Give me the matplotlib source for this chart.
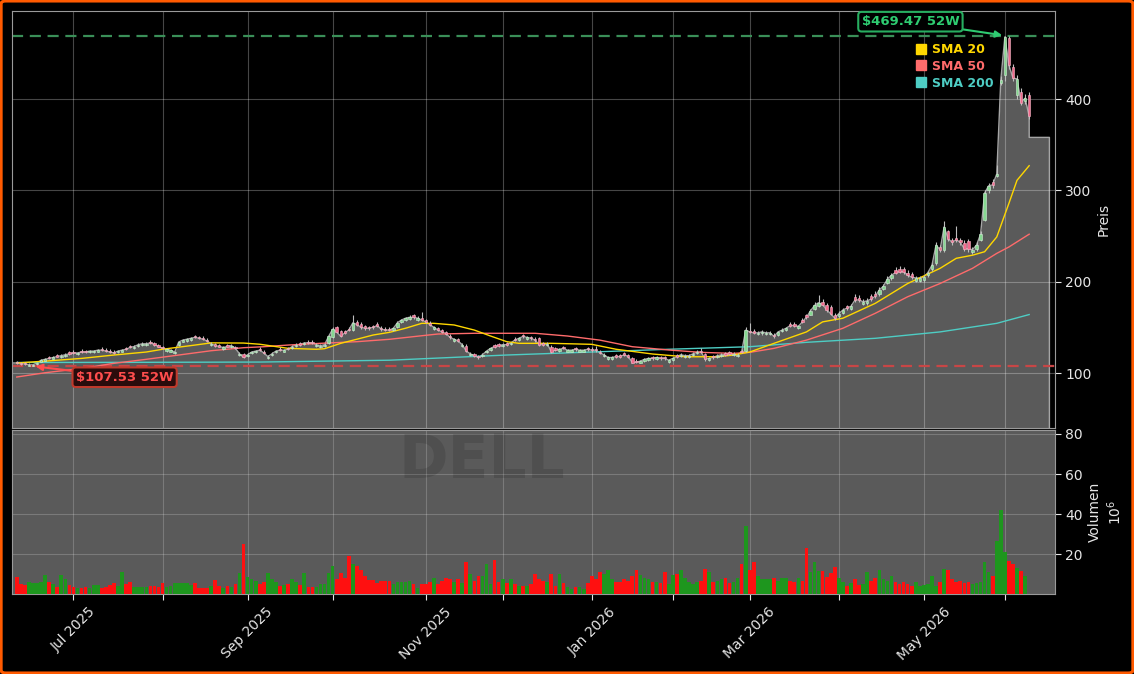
import numpy as np
import pandas as pd
import matplotlib
matplotlib.use("Agg")
import matplotlib.pyplot as plt
from matplotlib.lines import Line2D
from matplotlib.patches import FancyBboxPatch

# ===============================
# DATA
# ===============================
TICKER = "DELL"
START = "2025-06-10"
HOLIDAYS = ["2025-06-19", "2025-07-04", "2025-09-01", "2025-11-27", "2025-12-25",
            "2026-01-01", "2026-01-19", "2026-02-16", "2026-04-03", "2026-05-25"]

closes = [
    111, 110, 110, 109, 109, 111, 114, 115, 116, 117,
    118, 119, 120, 121, 122, 122, 123, 123, 124, 124,
    125, 125, 124, 123, 122, 124, 125, 126, 128, 129,
    131, 132, 132, 133, 131, 129, 127, 126, 125, 123,
    134, 136, 137, 138, 139, 138, 137, 135, 132, 130,
    129, 128, 129, 130, 127, 121, 117, 120, 123, 124,
    125, 122, 118, 121, 124, 125, 125, 126, 129, 131,
    131, 133, 133, 133, 131, 130, 131, 140, 148, 145,
    140, 144, 147, 155, 153, 150, 149, 149, 150, 152,
    148, 147, 147, 149, 155, 158, 160, 161, 161, 160,
    158, 156, 153, 150, 147, 145, 143, 139, 137, 135,
    131, 124, 121, 119, 117, 120, 124, 127, 129, 130,
    131, 131, 133, 136, 138, 140, 139, 138, 136, 131,
    131, 132, 123, 125, 126, 127, 125, 125, 126, 125,
    125, 126, 125, 125, 122, 120, 117, 117, 118, 118,
    120, 118, 111.5, 112, 113, 115, 116, 116, 117, 116,
    116, 114, 116, 118, 120, 119, 119, 121, 123, 123,
    115, 116, 117, 119, 120, 120, 121, 121, 120, 123,
    147, 145, 144, 144, 145, 144, 144, 140, 145, 147,
    149, 152, 152, 151, 156, 161, 168, 174, 177, 175,
    169, 165, 160, 165, 169, 171, 173, 180, 180, 178,
    179, 181, 184, 191, 195, 203, 207, 210, 211, 211,
    207, 205, 204, 204, 205, 210, 218, 240, 235, 260,
    247, 243, 246, 243, 236, 236, 235, 240, 252, 297,
    305, 306, 318, 421, 468, 437, 423, 422, 396, 401, 381,
]
opens = [
    112, 111, 111, 108, 108, 109.5, 112.5, 113.5, 117.5, 115.5,
    119.5, 117.5, 118.5, 122.5, 123.5, 120.5, 124.5, 124.5, 122.5, 122.5,
    123.5, 126.5, 125.5, 124.5, 123.5, 122.5, 123.5, 127.5, 129.5, 127.5,
    129.5, 130.5, 130.5, 134.5, 132.5, 130.5, 128.5, 124.5, 123.5, 121.5,
    131, 134.5, 135.5, 136.5, 140.5, 139.5, 138.5, 136.5, 130.5, 131.5,
    130.5, 126.5, 130.5, 128.5, 128.5, 119.5, 121, 118.5, 121.5, 122.5,
    126.5, 123.5, 116.5, 119.5, 122.5, 126.5, 123.5, 127.5, 127.5, 129.5,
    132.5, 131.5, 134.5, 134.5, 129.5, 128.5, 129.5, 133, 139, 150,
    146, 146, 148.5, 147, 156, 154, 151, 150.5, 151.5, 153.5,
    149.5, 148.5, 148.5, 147.5, 150, 155.5, 158, 159, 163, 158,
    160, 158, 155, 148.5, 149, 147, 145, 141, 135.5, 137,
    129.5, 130, 119.5, 120.5, 118.5, 118.5, 122.5, 125.5, 130.5, 131.5,
    129.5, 132.5, 131.5, 137.5, 136.5, 141.5, 137.5, 139.5, 137.5, 138.5,
    132.5, 130.5, 129, 127, 124.5, 128.5, 123.5, 123.5, 127.5, 123.5,
    123.5, 127.5, 126.5, 126.5, 123.5, 118.5, 115.5, 115.5, 119.5, 119.5,
    121.5, 119.5, 116.5, 113.5, 111.5, 113.5, 114.5, 117.5, 115.5, 117.5,
    117.5, 112.5, 114.5, 119.5, 118.5, 117.5, 117.5, 119.5, 121.5, 124.5,
    121, 114.5, 118.5, 117.5, 118.5, 121.5, 122.5, 119.5, 118.5, 124.5,
    124, 146.5, 146, 142.5, 143.5, 142.5, 142.5, 142, 142, 145.5,
    147.5, 154, 154, 149, 158, 163, 164, 170, 173, 178,
    175, 172, 164, 162, 166, 173, 170, 183, 182.5, 175.5,
    176.5, 184, 187, 186, 192, 199, 204, 213, 214, 214,
    210, 208, 201, 201, 202, 207, 214, 220, 238, 235,
    255, 246, 248, 246, 242, 245, 232, 236, 246, 268,
    300, 309, 316, 418, 426, 467, 435, 404, 408, 398, 404,
]
highs = [
    113.5, 112.5, 112, 110.5, 110, 112.5, 115.5, 116.5, 118.5, 118.5,
    121, 120.5, 121.5, 124, 125, 123.5, 126, 125.5, 125.5, 125.5,
    126.5, 128, 127, 126, 125, 125.5, 126.5, 129, 131, 130.5,
    132.5, 133.5, 134, 136, 134, 132, 130, 127.5, 126.5, 124.5,
    135.5, 137.5, 138.5, 139.5, 142, 141, 140, 138, 133.5, 133,
    132, 129.5, 132, 131.5, 130, 123, 122, 121.5, 124.5, 125.5,
    128, 125, 119.5, 122.5, 125.5, 128, 126.5, 129, 130.5, 132.5,
    134, 134.5, 136, 136, 132.5, 131.5, 132.5, 141.5, 150, 151,
    147.5, 147.5, 150, 163.5, 158, 156, 152.5, 152, 153, 155.5,
    151, 150, 150, 150.5, 156.5, 159.5, 161.5, 163, 165, 162,
    167, 159.5, 157, 151.5, 150.5, 148.5, 146.5, 142.5, 138.5, 138.5,
    133, 131.5, 123, 122, 120, 121.5, 125.5, 128.5, 132, 133,
    132.5, 134, 134.5, 139, 139.5, 143, 140.5, 141, 139, 139.5,
    134, 133.5, 130.5, 128.5, 127.5, 130, 126.5, 126.5, 129, 126.5,
    126.5, 129, 128, 130, 125, 121.5, 118.5, 118.5, 121, 121,
    123, 121, 118, 115, 114.5, 116.5, 117.5, 119, 118.5, 119,
    119, 115.5, 117.5, 121, 121.5, 120.5, 120.5, 122.5, 125, 127.5,
    122, 117.5, 120, 120.5, 121.5, 123, 124, 122.5, 121.5, 126,
    150, 155, 148.5, 146, 147, 146, 146, 143.5, 146.5, 149,
    150.5, 156, 156, 153, 160, 165, 170, 178, 185, 181,
    177, 174, 166, 167.5, 171, 175, 175.5, 186, 185, 181,
    182, 187, 190, 194, 198, 206, 210, 216, 217, 216,
    213, 211, 206, 206, 207, 212, 221, 243, 240, 266,
    257, 248, 261, 248, 246, 247, 238, 243, 255, 300,
    308, 312, 328, 425, 469.47, 469, 438, 426, 412, 405, 408,
]
lows = [
    110, 109, 109, 108, 107.53, 109, 112, 113, 115, 115,
    117, 116.5, 117.5, 120, 121, 120, 122, 122, 121.5, 121.5,
    122.5, 124, 123, 122, 121, 121.5, 122.5, 125, 127, 126.5,
    128.5, 129.5, 129.5, 132, 130, 128, 126, 123.5, 122.5, 120.5,
    130, 133.5, 134.5, 135.5, 138, 137, 136, 134, 129.5, 129,
    128, 125.5, 128, 127.5, 126, 118.5, 116, 117.5, 120.5, 121.5,
    124, 121, 115.5, 118.5, 121.5, 124, 122.5, 125, 126.5, 128.5,
    130, 130.5, 132, 132, 128.5, 127.5, 128.5, 132, 138, 144,
    139, 142.5, 145.5, 146, 151.5, 148.5, 147.5, 147.5, 148.5, 150.5,
    146.5, 145.5, 145.5, 146.5, 149, 154.5, 157, 158, 159.5, 156.5,
    157, 154.5, 151.5, 147.5, 145.5, 143.5, 141.5, 137.5, 134.5, 133.5,
    128.5, 123, 118.5, 117.5, 115.5, 117.5, 121.5, 124.5, 127.5, 128.5,
    128.5, 130, 130.5, 135, 135.5, 138.5, 136.5, 136.5, 134.5, 130,
    129.5, 129.5, 121.5, 124, 123.5, 126, 122.5, 122.5, 124.5, 122.5,
    122.5, 124.5, 123.5, 123.5, 120.5, 117.5, 114.5, 114.5, 116.5, 116.5,
    118.5, 116.5, 110.5, 110.5, 110.5, 112.5, 113.5, 114.5, 114.5, 114.5,
    114.5, 111.5, 113.5, 116.5, 117.5, 116.5, 116.5, 118.5, 120.5, 121.5,
    113.5, 113.5, 115.5, 116.5, 117.5, 118.5, 119.5, 118.5, 117.5, 121.5,
    123, 143.5, 142.5, 141.5, 142, 141.5, 141.5, 138.5, 140.5, 144.5,
    146.5, 150.5, 150.5, 148, 154.5, 159.5, 163, 169, 172, 173.5,
    167, 163, 158.5, 160.5, 165, 169, 168.5, 178, 177.5, 174.5,
    175, 179, 182, 184.5, 190.5, 197, 202, 208, 209, 208.5,
    205, 203, 199.5, 199.5, 200, 205, 212, 218, 232, 233,
    245, 240, 243, 240, 234, 233, 230, 234, 244, 266,
    297, 303, 315, 415, 420, 433, 420, 400, 393, 395, 378,
]
volumes = [  # millions
    8.7, 5, 4.8, 6, 5.5, 5.5, 6, 9.6, 6, 5,
    3.7, 9.6, 7.8, 4.8, 3.7, 3.4, 3.4, 3.5, 3.4, 4.6,
    4.8, 3.4, 3.7, 4.8, 5.7, 4, 11, 5, 6.2, 3.7,
    3.7, 3.7, 3.7, 4.3, 4.3, 3.9, 5.5, 3.7, 4, 5.5,
    5.5, 5.5, 5.5, 4.8, 5.9, 3.4, 3.4, 3.4, 4, 7,
    4.3, 3.4, 4, 3.7, 5, 10.5, 25, 8.7, 7.8, 6.5,
    5, 6, 10.5, 7.8, 6, 4.3, 4.8, 5, 7.8, 6,
    4.5, 10.5, 3.7, 3.7, 3.7, 5, 5, 10.5, 14, 7.8,
    10.5, 8, 19, 15, 14, 12, 9, 7, 7, 5.5,
    6.8, 6.8, 6.8, 5, 6, 6, 6, 6.5, 5, 3.4,
    5, 5, 6, 8, 5, 6.8, 8.4, 7.6, 6, 7.6,
    5.6, 16, 10.4, 6.8, 9.3, 9.3, 15, 5, 17, 6,
    7.6, 5.5, 7.6, 5, 4.3, 4, 4, 5, 10, 7.6,
    6.8, 6, 10, 4, 10, 5.6, 3.5, 2.6, 3.5, 3.5,
    2.5, 5.6, 9.3, 7.6, 11, 10, 12, 7.6, 6.3, 6,
    7.6, 6.5, 9.3, 12, 9.6, 8.4, 7.6, 6, 6, 5.5,
    11, 5, 9.6, 10, 12, 8.4, 6, 5, 6, 6.8,
    12.5, 11.2, 6.3, 6.8, 7.6, 8, 5.6, 6, 8, 15,
    34, 12.4, 16, 9.3, 7.6, 7.6, 7.6, 8, 6.8, 8,
    8.4, 6.8, 6, 8, 6.6, 23, 11, 16, 11.7, 11.7,
    8.8, 10.6, 13.7, 8, 6, 4.3, 5.6, 7.6, 4.6, 5,
    11, 6.8, 8.4, 12, 7.6, 6.8, 9.3, 6, 5, 6.3,
    5, 4, 6, 4.3, 4.6, 5, 9.3, 4.3, 6, 12.6,
    12.2, 7.6, 6.3, 6.8, 5.6, 6.3, 5, 5.5, 6, 16,
    11, 9.3, 26.6, 42, 21, 16.7, 15, 13, 11.7, 9.3, 0,
]

# moving averages, sampled along the curves (trading-day index, price)
sma20_idx = [0, 7, 16, 24, 32, 36, 44, 48, 56, 60, 67, 74, 76, 80, 84, 88, 92, 96, 100,
             103, 108, 113, 117, 121, 124, 132, 142, 148, 157, 165, 173, 177, 181, 187,
             195, 199, 204, 212, 220, 228, 232, 236, 239, 242, 245, 247, 250]
sma20_val = [111, 113, 116, 119.7, 123, 126, 130.6, 133, 132.8, 131.5, 127, 126, 126.6,
             132.5, 137, 141.6, 144.5, 149, 154.4, 154.4, 152.6, 147, 140.5, 134.3, 132.5,
             132.5, 131.4, 126, 120.8, 117.8, 117.8, 119.7, 123, 132.5, 145, 156, 160,
             176.3, 198, 214.6, 225.6, 229, 232.8, 249, 285.8, 311, 327]
sma50_idx = [0, 7, 16, 24, 32, 40, 48, 56, 61, 67, 75, 84, 92, 100, 104, 113, 121, 128,
             136, 144, 152, 161, 169, 177, 181, 187, 195, 204, 212, 220, 228, 236, 242,
             245, 250]
sma50_val = [95.6, 100.3, 105, 110.6, 115, 119.7, 124.4, 127.7, 128.8, 130.6, 132.5,
             134.3, 136.9, 140.8, 142.7, 143.5, 143.5, 143.5, 140.5, 136, 128.8, 125.2,
             122.6, 121.5, 122.6, 127, 136, 149, 165.4, 183.5, 198, 214.6, 231, 238, 252]
sma200_idx = [0, 30, 60, 92, 121, 144, 161, 181, 195, 212, 228, 242, 250]
sma200_val = [111.5, 111.7, 112, 114, 119.7, 123.3, 126, 128.8, 133.6, 138, 145, 154.4, 164]

tail_close = 358.0   # flat level of the area after the last candle
tail_days = 5
high_52w = 469.47
low_52w = 107.53

# ===============================
# STYLE
# ===============================
BG = "black"
PANEL = "#5a5a5a"
TXT = "#e6e6e6"
UP, DOWN = "#86d891", "#f26a8d"
VUP, VDOWN = "#1e961e", "#ff1010"
C20, C50, C200 = "#FFD700", "#FF6B6B", "#4ECDC4"
XMIN, XMAX = -1.1, 256.3

n = len(closes)
x = np.arange(n)
o = np.array(opens, float)
c = np.array(closes, float)
h = np.array(highs, float)
l = np.array(lows, float)
up = c >= o

days = pd.bdate_range(START, periods=n + 40)
days = days[~days.isin(pd.to_datetime(HOLIDAYS))][:n]
month_start = [i for i in range(1, n) if days[i].month != days[i - 1].month]
month_lbl = [days[i].strftime("%b %Y") if days[i].month % 2 == 1 else "" for i in month_start]

fig = plt.figure(figsize=(11.34, 6.74), dpi=100, facecolor=BG)
ax = fig.add_axes([0.01085, 0.3650, 0.9192, 0.6187])
axv = fig.add_axes([0.01085, 0.1180, 0.9192, 0.2441], sharex=ax)

# --- price panel ---
ax.set_facecolor(BG)
fx = np.concatenate([[XMIN], x, [n - 1, n - 1 + tail_days]])
fy = np.concatenate([[c[0]], c, [tail_close, tail_close]])
ax.fill_between(fx, fy, 0, color=PANEL, lw=0, zorder=1)
ax.plot(np.append(fx, fx[-1]), np.append(fy, 0), color="#a5a5a5", lw=1, zorder=1.2)

ax.vlines(x, l, h, color="#bdbdbd", lw=0.8, zorder=3)
body = np.maximum(np.abs(c - o), 0.6)
ax.bar(x[up], body[up], bottom=np.minimum(o, c)[up], width=0.6,
       color=UP, edgecolor="#cfeed4", lw=0.4, zorder=4)
ax.bar(x[~up], body[~up], bottom=np.minimum(o, c)[~up], width=0.6,
       color=DOWN, edgecolor="#f7b8c8", lw=0.4, zorder=4)

ax.plot(sma20_idx, sma20_val, color=C20, lw=1, zorder=2.5)
ax.plot(sma50_idx, sma50_val, color=C50, lw=1, zorder=2.4)
ax.plot(sma200_idx, sma200_val, color=C200, lw=1, zorder=2.3)

ax.axhline(high_52w, color="#3a8f58", lw=1.6, ls=(0, (5, 3)), zorder=2)
ax.axhline(low_52w, color="#c84646", lw=1.6, ls=(0, (5, 3)), zorder=2)

i_hi = int(np.argmax(h))
i_lo = int(np.argmin(l))
ax.annotate(f"${high_52w:.2f} 52W", xy=(i_hi, high_52w), xytext=(-68, 10),
            textcoords="offset points", ha="center", va="center",
            color="#2ecc71", fontsize=9.5, fontweight="bold", zorder=6,
            bbox=dict(boxstyle="round,pad=0.25", fc="black", ec="#27ae60", lw=1.5),
            arrowprops=dict(arrowstyle="-|>", color="#2ecc71", lw=1.5, shrinkA=0, shrinkB=2))
ax.annotate(f"${low_52w:.2f} 52W", xy=(i_lo, low_52w), xytext=(66, -8),
            textcoords="offset points", ha="center", va="center",
            color="#ff4d4d", fontsize=9.5, fontweight="bold", zorder=6,
            bbox=dict(boxstyle="round,pad=0.25", fc="#2a0c0c", ec="#c0392b", lw=1.5),
            arrowprops=dict(arrowstyle="-|>", color="#ff4d4d", lw=1.5, shrinkA=0, shrinkB=2))

handles = [Line2D([], [], ls="none", marker="s", ms=6.5, color=col) for col in (C20, C50, C200)]
leg = ax.legend(handles, ["SMA 20", "SMA 50", "SMA 200"], loc="upper right",
                bbox_to_anchor=(0.952, 0.95), frameon=False, handlelength=0.7,
                handletextpad=0.5, labelspacing=0.3, prop=dict(size=9, weight="bold"))
for t, col in zip(leg.get_texts(), (C20, C50, C200)):
    t.set_color(col)

ax.set_ylim(39.8, 496.4)
ax.set_yticks([100, 200, 300, 400])
ax.yaxis.tick_right()
ax.yaxis.set_label_position("right")
ax.set_ylabel("Preis", color=TXT, fontsize=10)
ax.tick_params(axis="y", colors=TXT, labelsize=10, length=4)
ax.tick_params(axis="x", length=0, labelbottom=False)
ax.grid(True, color="white", alpha=0.28, lw=0.8)
for s in ax.spines.values():
    s.set_color("#9a9a9a")

# --- volume panel ---
axv.set_facecolor(PANEL)
v = np.array(volumes, float)
axv.bar(x, v, width=0.9, color=np.where(up, VUP, VDOWN), lw=0, zorder=3)
axv.set_ylim(0, 82)
axv.set_yticks([20, 40, 60, 80])
axv.yaxis.tick_right()
axv.yaxis.set_label_position("right")
axv.set_ylabel("Volumen\n$10^{6}$", color=TXT, fontsize=10)
axv.tick_params(axis="y", colors=TXT, labelsize=10, length=4)
axv.set_xticks(month_start)
axv.set_xticklabels(month_lbl, rotation=45)
axv.tick_params(axis="x", colors=TXT, labelsize=10, length=4)
axv.grid(True, color="white", alpha=0.2, lw=0.8)
for s in axv.spines.values():
    s.set_color("#9a9a9a")

ax.set_xlim(XMIN, XMAX)

fig.text(0.425, 0.315, TICKER, fontsize=43, fontweight="bold", color="black",
         alpha=0.12, ha="center", va="center")

fig.patches.append(FancyBboxPatch((0.001, 0.0015), 0.998, 0.997,
                                  boxstyle="round,pad=0,rounding_size=0.004",
                                  transform=fig.transFigure, fc="none",
                                  ec="#ff5a00", lw=2.2))

fig.savefig("out.png", dpi=100, facecolor=BG)
